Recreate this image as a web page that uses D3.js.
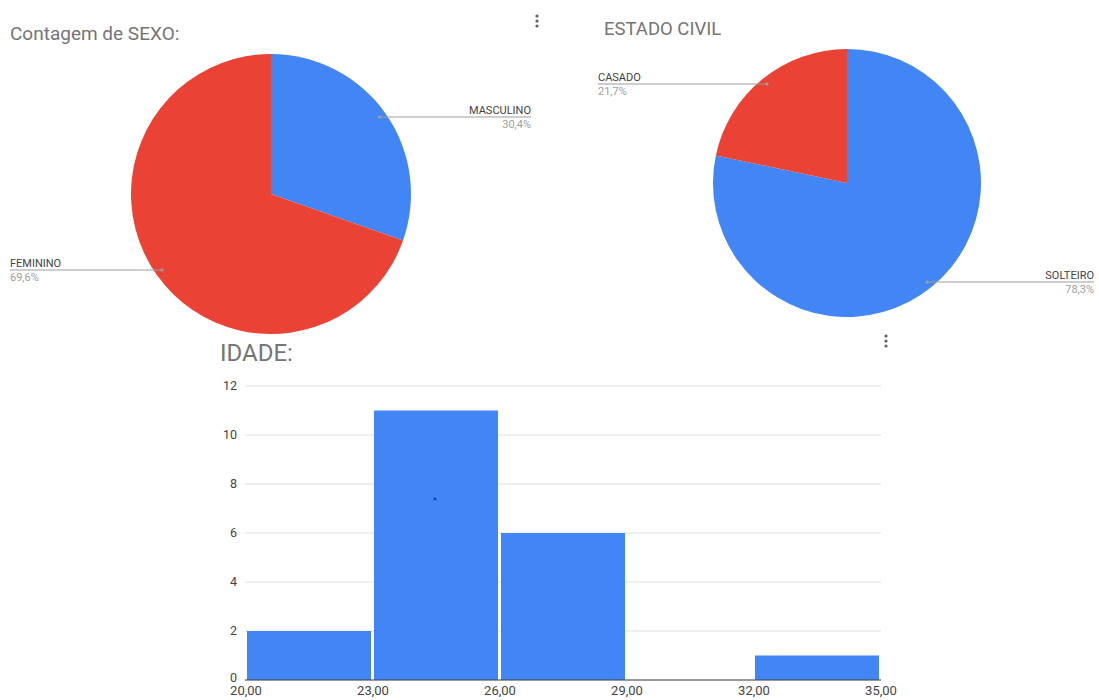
<!DOCTYPE html>
<html>
<head>
<meta charset="utf-8">
<script src="https://cdn.jsdelivr.net/npm/d3@7"></script>
<style>
  body { margin: 0; background: #fff; }
  svg { font-family: Roboto, Arial, sans-serif; }
</style>
</head>
<body>
<svg id="chart" width="1099" height="700"></svg>
<script>
// data
var sexoLabels = ["MASCULINO", "FEMININO"];
var sexoValues = [30.4, 69.6];
var civilLabels = ["SOLTEIRO", "CASADO"];
var civilValues = [78.3, 21.7];
var idadeBins = [20, 23, 26, 29, 32, 35];
var idadeCounts = [2, 11, 6, 0, 1];
var yTicks = [0, 2, 4, 6, 8, 10, 12];
var sliceColors = ["#4285f4", "#ea4335"];

var svg = d3.select("#chart");
var fmtPct = function(v){ return v.toFixed(1).replace(".", ",") + "%"; };

// menu dots
function dots(x, y){
  [0, 5, 10].forEach(function(d){
    svg.append("circle").attr("cx", x).attr("cy", y + d).attr("r", 1.6).attr("fill", "#616161");
  });
}

function drawPie(cx, cy, r, labels, values, labelPos){
  var g = svg.append("g").attr("transform", "translate(" + cx + "," + cy + ")");
  var pie = d3.pie().sort(null).value(function(d){ return d; });
  var arc = d3.arc().innerRadius(0).outerRadius(r);
  var arcs = pie(values);
  g.selectAll("path").data(arcs).enter().append("path")
    .attr("d", arc)
    .attr("fill", function(d, i){ return sliceColors[i]; });

  arcs.forEach(function(a, i){
    var p = labelPos[i];
    var mid = (a.startAngle + a.endAngle) / 2;
    var side = Math.sin(mid) >= 0 ? 1 : -1;
    var rr = r * 0.95, dy = p.y - cy;
    var px = cx + side * Math.sqrt(rr * rr - dy * dy), py = p.y;
    svg.append("line")
      .attr("x1", px).attr("y1", py).attr("x2", p.x2).attr("y2", py)
      .attr("stroke", "#9e9e9e").attr("stroke-width", 1.2);
    svg.append("circle").attr("cx", px).attr("cy", py).attr("r", 1.6).attr("fill", "#9e9e9e");
    var tx = p.x2;
    svg.append("text").attr("x", tx).attr("y", py - 3)
      .attr("text-anchor", p.anchor).attr("font-size", 11).attr("fill", "#424242")
      .text(labels[i]);
    svg.append("text").attr("x", tx).attr("y", py + 11)
      .attr("text-anchor", p.anchor).attr("font-size", 11).attr("fill", "#9e9e9e")
      .text(fmtPct(values[i]));
  });
}

// pie 1
svg.append("text").attr("x", 10).attr("y", 40).attr("font-size", 19).attr("fill", "#757575")
  .text("Contagem de SEXO:");
drawPie(271, 194, 140, sexoLabels, sexoValues, [
  {y: 117, x2: 531, anchor: "end"},
  {y: 270, x2: 10, anchor: "start"}
]);
dots(537, 16);

// pie 2
svg.append("text").attr("x", 604).attr("y", 35).attr("font-size", 18.5).attr("fill", "#757575")
  .text("ESTADO CIVIL");
drawPie(847, 183, 134, civilLabels, civilValues, [
  {y: 282, x2: 1094, anchor: "end"},
  {y: 84, x2: 598, anchor: "start"}
]);

// histogram
svg.append("text").attr("x", 220).attr("y", 361).attr("font-size", 24).attr("fill", "#757575")
  .text("IDADE:");
dots(886, 336);

var x = d3.scaleLinear().domain([20, 35]).range([246, 881]);
var y = d3.scaleLinear().domain([0, 12]).range([680, 386]);

svg.selectAll(".grid").data(yTicks).enter().append("line")
  .attr("x1", 245).attr("x2", 881)
  .attr("y1", function(d){ return y(d); }).attr("y2", function(d){ return y(d); })
  .attr("stroke", "#e0e0e0").attr("stroke-width", 1);

svg.selectAll(".ylab").data(yTicks).enter().append("text")
  .attr("x", 237).attr("y", function(d){ return y(d) + (d === 0 ? 2 : 4); })
  .attr("text-anchor", "end").attr("font-size", 12.5).attr("fill", "#444")
  .text(function(d){ return d; });

var bins = idadeCounts.map(function(c, i){ return {x0: idadeBins[i], x1: idadeBins[i + 1], n: c}; });
svg.selectAll(".bar").data(bins.filter(function(d){ return d.n > 0; })).enter().append("rect")
  .attr("x", function(d){ return x(d.x0) + 1; })
  .attr("width", function(d){ return x(d.x1) - x(d.x0) - 3; })
  .attr("y", function(d){ return y(d.n); })
  .attr("height", function(d){ return y(0) - y(d.n); })
  .attr("fill", "#4285f4");

svg.append("line").attr("x1", 245).attr("x2", 881).attr("y1", y(0)).attr("y2", y(0))
  .attr("stroke", "#444").attr("stroke-width", 1.2);

svg.selectAll(".xlab").data(idadeBins).enter().append("text")
  .attr("x", function(d){ return x(d); }).attr("y", 695)
  .attr("text-anchor", "middle").attr("font-size", 13).attr("fill", "#444")
  .text(function(d){ return d.toFixed(2).replace(".", ","); });

// stray cursor dot in the reference
svg.append("circle").attr("cx", 435).attr("cy", 499).attr("r", 1.6).attr("fill", "#1a3fd0");
</script>
</body>
</html>
